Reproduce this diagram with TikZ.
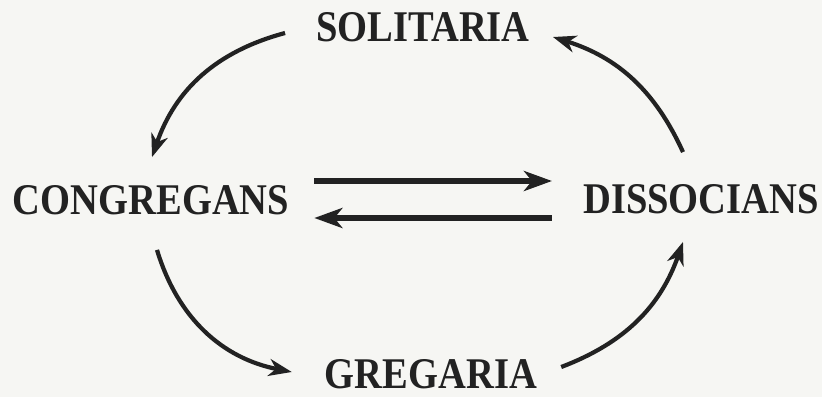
\documentclass[tikz,border=0pt]{standalone}
\usepackage{fontspec}
\setmainfont{Liberation Serif}
\usetikzlibrary{arrows.meta}
\definecolor{ink}{RGB}{34,34,34}
\definecolor{paper}{RGB}{246,246,243}
\newcommand{\lbltext}[1]{\scalebox{0.88}[1]{\fontsize{43.8}{50}\selectfont\bfseries #1}}
\tikzset{
  lbl/.style={inner sep=0pt, text=ink},
  cyc/.style={draw=ink, line width=4.2pt, -{Stealth[length=23pt,width=17pt,inset=7pt]}},
  flow/.style={draw=ink, line width=5.4pt, -{Stealth[length=28pt,width=20pt,inset=8pt]}}
}
\begin{document}
\begin{tikzpicture}[x=1pt,y=1pt]
\fill[paper] (0,0) rectangle (822,397);
\useasboundingbox (0,0) rectangle (822,397);
\node[lbl] (con) at (151,197) {\lbltext{CONGREGANS}};
\node[lbl] (sol) at (423,370) {\lbltext{SOLITARIA}};
\node[lbl] (dis) at (701,198) {\lbltext{DISSOCIANS}};
\node[lbl] (gre) at (431,23) {\lbltext{GREGARIA}};
% cycle
\draw[cyc] ([shift={(-31pt,-6pt)}]sol.west) to[bend right=28] ([shift={(1pt,28pt)}]con.north);
\draw[cyc] ([shift={(6pt,-35pt)}]con.south) to[bend right=31] ([shift={(-33pt,2pt)}]gre.west);
\draw[cyc] ([shift={(24pt,7pt)}]gre.east) to[bend right=25] ([shift={(-18pt,-28pt)}]dis.south);
\draw[cyc] ([shift={(-18pt,32pt)}]dis.north) to[bend right=24] ([shift={(23pt,-10pt)}]sol.east);
% horizontal pair
\draw[flow, shorten <=25pt, shorten >=31pt] ([yshift=19pt]con.east) -- ([yshift=18pt]dis.west);
\draw[flow, shorten <=31pt, shorten >=25pt] ([yshift=-19pt]dis.west) -- ([yshift=-18pt]con.east);
\end{tikzpicture}
\end{document}
